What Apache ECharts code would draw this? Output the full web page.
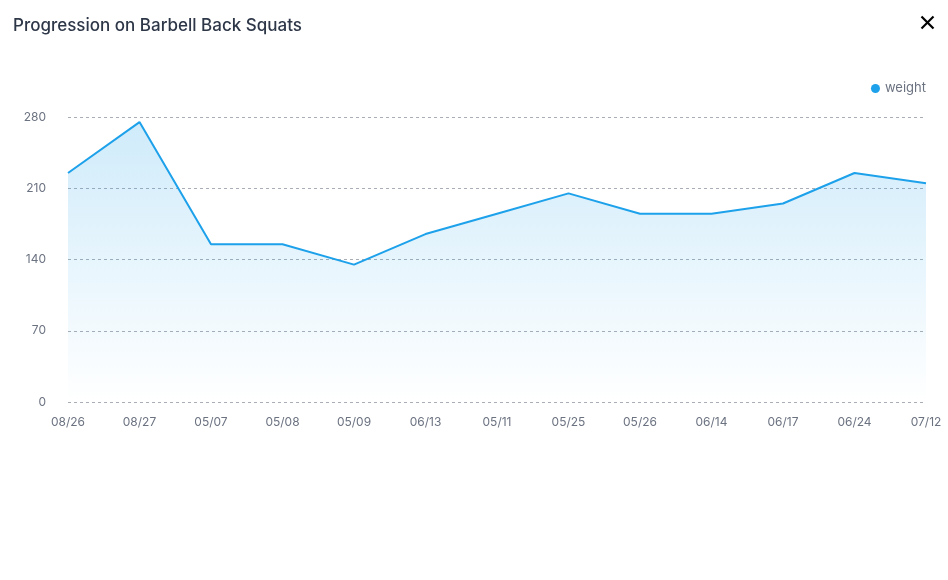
<!DOCTYPE html>
<html>
<head>
    <meta charset="UTF-8">
    <title>Progression on Barbell Back Squats</title>
    <script src="https://cdn.jsdelivr.net/npm/echarts@6/dist/echarts.min.js"></script>
    <style>
        html, body { margin: 0; padding: 0; background: #fff; }
        #chart { width: 948px; height: 580px; }
    </style>
</head>
<body>
<div id="chart"></div>
<script>
var dates = ['08/26', '08/27', '05/07', '05/08', '05/09', '06/13', '05/11', '05/25', '05/26', '06/14', '06/17', '06/24', '07/12'];
var weight = [225, 275, 155, 155, 135, 165, 185, 205, 185, 185, 195, 225, 215];
var yTicks = [0, 70, 140, 210, 280];

var myChart = echarts.init(document.getElementById('chart'));

var option = {
    backgroundColor: '#fff',
    textStyle: { fontFamily: 'Inter, "Noto Sans", sans-serif' },
    title: {
        text: 'Progression on Barbell Back Squats',
        left: 8,
        top: 12,
        textStyle: {
            fontSize: 17,
            fontWeight: 500,
            color: '#2d3748'
        }
    },
    legend: {
        data: ['weight'],
        right: 17,
        top: 77,
        icon: 'circle',
        itemWidth: 9,
        itemHeight: 9,
        itemGap: 6,
        textStyle: { color: '#6b7280', fontSize: 13 }
    },
    grid: {
        left: 68,
        right: 22,
        top: 117,
        bottom: 178
    },
    xAxis: {
        type: 'category',
        boundaryGap: false,
        data: dates,
        axisLine: { show: false },
        axisTick: { show: false },
        axisLabel: { color: '#6b7280', fontSize: 12, margin: 14 }
    },
    yAxis: {
        type: 'value',
        min: yTicks[0],
        max: yTicks[yTicks.length - 1],
        interval: 70,
        axisLine: { show: false },
        axisTick: { show: false },
        axisLabel: { color: '#6b7280', fontSize: 12, margin: 22 },
        splitLine: {
            lineStyle: { type: [3, 3], color: '#a9aeb6', width: 1 }
        }
    },
    graphic: [
        {
            type: 'group',
            right: 12,
            top: 14,
            children: [
                { type: 'line', shape: { x1: 0, y1: 0, x2: 12, y2: 12 }, style: { stroke: '#000', lineWidth: 2.2 } },
                { type: 'line', shape: { x1: 12, y1: 0, x2: 0, y2: 12 }, style: { stroke: '#000', lineWidth: 2.2 } }
            ]
        }
    ],
    series: [
        {
            name: 'weight',
            type: 'line',
            data: weight,
            symbol: 'none',
            color: '#1da1ea',
            lineStyle: { width: 2, color: '#1da1ea' },
            areaStyle: {
                color: new echarts.graphic.LinearGradient(0, 0, 0, 1, [
                    { offset: 0, color: 'rgba(29,161,234,0.3)' },
                    { offset: 1, color: 'rgba(29,161,234,0)' }
                ])
            }
        }
    ]
};
myChart.setOption(option);
</script>
</body>
</html>
